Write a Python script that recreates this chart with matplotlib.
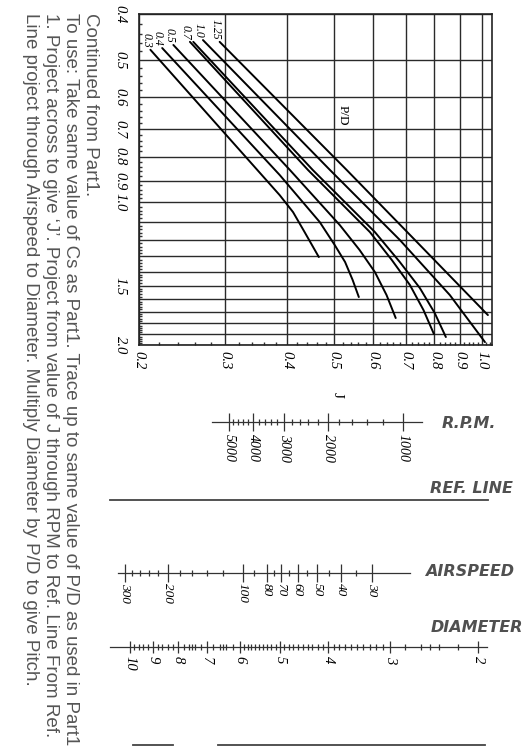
import matplotlib
matplotlib.use("Agg")
import matplotlib.pyplot as plt
import numpy as np
from matplotlib.ticker import NullFormatter

W, H = 531, 748

# ---- chart values ----
j_ticks = [0.2, 0.3, 0.4, 0.5, 0.6, 0.7, 0.8, 0.9, 1.0]
j_labels = ["0.2", "0.3", "0.4", "0.5", "0.6", "0.7", "0.8", "0.9", "1.0"]
cs_grid = [0.4, 0.5, 0.6, 0.7, 0.8, 0.9, 1.0, 1.1, 1.2, 1.3, 1.4,
           1.5, 1.6, 1.7, 1.8, 1.9, 2.0]
cs_labels = ["0.4", "0.5", "0.6", "0.7", "0.8", "0.9", "1.0", "", "", "", "",
             "1.5", "", "", "", "", "2.0"]

pd_labels = ["0.3", "0.4", "0.5", "0.7", "", "1.0", "1.25"]
pd_j = [
    [0.211, 0.387, 0.412, 0.435, 0.465],
    [0.223, 0.387, 0.467, 0.501, 0.526, 0.545, 0.561],
    [0.235, 0.406, 0.513, 0.563, 0.605, 0.639, 0.667],
    [0.254, 0.442, 0.591, 0.655, 0.713, 0.760, 0.798],
    [0.258, 0.452, 0.605, 0.680, 0.747, 0.801, 0.844],
    [0.270, 0.490, 0.680, 0.860, 1.014],
    [0.292, 0.530, 0.747, 1.028],
]
pd_cs = [
    [0.476, 0.965, 1.048, 1.155, 1.304],
    [0.472, 0.875, 1.100, 1.230, 1.336, 1.458, 1.584],
    [0.465, 0.854, 1.116, 1.260, 1.403, 1.569, 1.754],
    [0.458, 0.854, 1.155, 1.323, 1.494, 1.688, 1.896],
    [0.458, 0.854, 1.155, 1.336, 1.516, 1.712, 1.924],
    [0.454, 0.854, 1.200, 1.569, 1.972],
    [0.458, 0.854, 1.230, 1.729],
]

rpm_major = [1000, 2000, 3000, 4000, 5000]
rpm_minor = [1200, 1400, 1600, 1800, 2200, 2400, 2600, 2800,
             3200, 3400, 3600, 3800, 4200, 4400, 4600, 4800]
airspeed_major = [30, 40, 50, 60, 70, 80, 100, 200, 300]
airspeed_minor = [35, 45, 55, 65, 75, 90, 120, 140, 160, 180,
                  220, 240, 260, 280]
diameter_major = [2, 3, 4, 5, 6, 7, 8, 9, 10]
diameter_minor = [2.2, 2.4, 2.5, 2.6, 2.8,
                  3.1, 3.2, 3.3, 3.4, 3.5, 3.6, 3.7, 3.8, 3.9,
                  4.1, 4.2, 4.3, 4.4, 4.5, 4.6, 4.7, 4.8, 4.9,
                  5.1, 5.2, 5.3, 5.4, 5.5, 5.6, 5.7, 5.8, 5.9,
                  6.2, 6.4, 6.5, 6.6, 6.8, 7.2, 7.4, 7.5, 7.6, 7.8,
                  8.2, 8.4, 8.6, 8.8, 9.2, 9.4, 9.6, 9.8]

notes = [
    "Continued from Part1.",
    "To use: Take same value of Cs as Part1. Trace up to same value of P/D as used in Part1.",
    "1. Project across to give \u2018J\u2019. Project from value of J through RPM to Ref. Line From Ref.",
    "Line project through Airspeed to Diameter. Multiply Diameter by P/D to give Pitch.",
]

SERIF = dict(family="Liberation Serif", style="italic")
TITLE = dict(family="DejaVu Sans", weight="bold", style="italic", color="#505050")


def px_rect(x0, x1, y0, y1):
    return [x0 / W, 1 - y1 / H, (x1 - x0) / W, (y1 - y0) / H]


def scale_axes(fig, x0, x1, y, lims, major, minor, fontsize, major_len, minor_len, pad):
    ax = fig.add_axes(px_rect(x0, x1, y - 20, y + 20))
    ax.set_xscale("log")
    ax.set_xlim(*lims)
    ax.set_ylim(-1, 1)
    ax.patch.set_visible(False)
    for s in ["top", "left", "right"]:
        ax.spines[s].set_visible(False)
    ax.spines["bottom"].set_position(("data", 0))
    ax.spines["bottom"].set_linewidth(0.9)
    ax.spines["bottom"].set_color("#333333")
    ax.yaxis.set_visible(False)
    ax.set_xticks(major, [str(v) for v in major], rotation=-90, fontsize=fontsize, **SERIF)
    ax.set_xticks(minor, minor=True)
    ax.xaxis.set_minor_formatter(NullFormatter())
    ax.tick_params(axis="x", which="major", direction="inout", length=major_len,
                   width=0.9, color="#333333", pad=pad)
    ax.tick_params(axis="x", which="minor", direction="inout", length=minor_len,
                   width=0.9, color="#333333")
    return ax


fig = plt.figure(figsize=(W / 100, H / 100), dpi=100)

# background axes in pixel units for free text and plain lines
bg = fig.add_axes([0, 0, 1, 1])
bg.set_xlim(0, W)
bg.set_ylim(H, 0)
bg.axis("off")

# ---- main Cs / J chart ----
ax = fig.add_axes(px_rect(139, 492, 14, 345))
ax.set_xscale("log")
ax.set_yscale("log")
ax.set_xlim(0.2, 1.048)
ax.set_ylim(2.0, 0.4)
ax.set_xticks(j_ticks, j_labels, rotation=-90, fontsize=10.5, **SERIF)
ax.set_yticks(cs_grid, cs_labels, rotation=-90, fontsize=10.5, va="center", **SERIF)
ax.set_xticks(np.arange(0.22, 1.05, 0.02), minor=True)
ax.set_yticks(np.arange(0.42, 2.0, 0.02), minor=True)
ax.xaxis.set_minor_formatter(NullFormatter())
ax.yaxis.set_minor_formatter(NullFormatter())
ax.tick_params(which="major", length=0)
ax.tick_params(axis="x", which="major", pad=4)
ax.tick_params(axis="y", which="major", pad=9)
ax.tick_params(which="minor", direction="in", length=2.5, width=1.0, color="#333333")
ax.grid(True, which="major", color="#2a2a2a", linewidth=1.0)
for s in ax.spines.values():
    s.set_linewidth(1.2)
    s.set_color("#222222")

for lab, jj, cc in zip(pd_labels, pd_j, pd_cs):
    ax.plot(jj, cc, color="black", linewidth=1.4, solid_capstyle="round",
            solid_joinstyle="round")
    if lab:
        ax.annotate(lab, (jj[0], cc[0]), xytext=(-3, 1.5), textcoords="offset points",
                    rotation=-90, rotation_mode="anchor", ha="right", va="center",
                    fontsize=8.5, **SERIF)

ax.text(0.578, 0.695, "P/D", transform=ax.transAxes, rotation=-90, ha="center",
        va="center", fontsize=9.5, family="Liberation Serif")

bg.text(337, 395, "J", rotation=-90, ha="center", va="center", fontsize=11,
        family="Liberation Serif")

# ---- nomogram scales ----
scale_axes(fig, 212, 422, 422, (5850, 839), rpm_major, rpm_minor, 10, 13, 5, 2)
bg.text(442, 423, "R.P.M.", ha="left", va="center", fontsize=11.5, **TITLE)

bg.plot([110, 488], [500, 500], color="#444444", linewidth=1.3)
bg.text(513, 488, "REF. LINE", ha="right", va="center", fontsize=11.5, **TITLE)

scale_axes(fig, 118, 410, 573, (320, 21.1), airspeed_major, airspeed_minor, 9.5, 13, 4, 1)
bg.text(425, 572, "AIRSPEED", ha="left", va="center", fontsize=11.5, **TITLE)

scale_axes(fig, 110, 487, 647, (10.96, 1.92), diameter_major, diameter_minor, 10.5, 9, 4, 2)
bg.text(523, 627, "DIAMETER", ha="right", va="center", fontsize=11.5, **TITLE)

bg.plot([133, 173], [745, 745], color="#444444", linewidth=1.3)
bg.plot([218, 485], [745, 745], color="#444444", linewidth=1.3)

# ---- notes ----
for x, line in zip([90, 71, 50, 30], notes):
    bg.text(x, 13, line, rotation=-90, rotation_mode="anchor", ha="left", va="center",
            fontsize=13.5, family="Liberation Sans", color="#555555")

fig.savefig("out.png", dpi=100)
